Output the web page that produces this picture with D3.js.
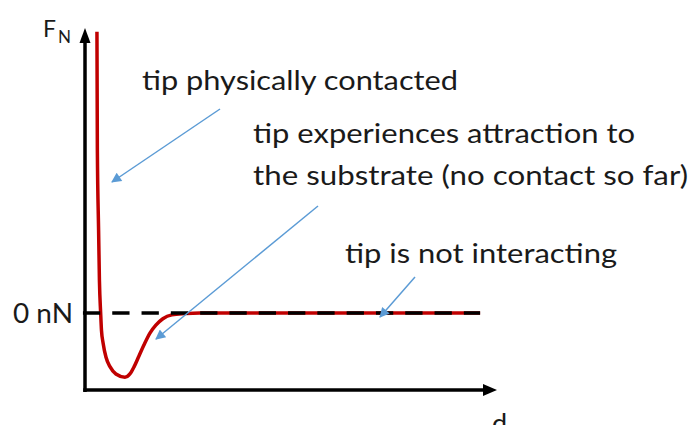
<!DOCTYPE html>
<html>
<head>
<meta charset="utf-8">
<script src="https://cdn.jsdelivr.net/npm/d3@7/dist/d3.min.js"></script>
<style>
  html, body { margin: 0; padding: 0; background: #fff; }
  svg { display: block; }
  text { font-family: Lato, "Open Sans", sans-serif; fill: #1a1a1a; }
</style>
</head>
<body>
<svg id="chart" width="692" height="425"></svg>
<script>
// ---- data ----
const distance = [0.29, 0.30, 0.33, 0.35, 0.38, 0.40, 0.44, 0.51, 0.61, 0.75, 0.97, 1.09, 1.19, 1.31, 1.43, 1.58, 1.72, 1.89, 2.11, 2.43, 2.79, 9.59];
const force    = [4.38, 2.54, 1.29, 0.51, 0.00, -0.27, -0.47, -0.69, -0.84, -0.95, -1.00, -0.95, -0.84, -0.67, -0.50, -0.31, -0.19, -0.09, -0.03, -0.01, 0.00, 0.00];
const zeroLine = [-0.05, 9.59];
const yTickLabels = ["0 nN"];
const axisLabels = ["F", "N", "d"];
const annotationTexts = [
  "tip physically contacted",
  "tip experiences attraction to",
  "the substrate (no contact so far)",
  "tip is not interacting"
];

// ---- layout ----
const svg = d3.select("#chart");
const x = d3.scaleLinear().domain([0, 10]).range([85, 497]);
const y = d3.scaleLinear().domain([-1.2, 4.44]).range([390, 28]);

const red = "#c00000";
const blue = "#5b9bd5";

const defs = svg.append("defs");
defs.append("marker")
  .attr("id", "blueHead").attr("viewBox", "0 0 10 10")
  .attr("refX", 9).attr("refY", 5)
  .attr("markerWidth", 13).attr("markerHeight", 10)
  .attr("markerUnits", "userSpaceOnUse")
  .attr("orient", "auto")
  .append("path").attr("d", "M0,0 L10,5 L0,10 Z").attr("fill", blue);

// red force curve
const pts = distance.map((d, i) => [d, force[i]]);
const line = d3.line().x(d => x(d[0])).y(d => y(d[1])).curve(d3.curveMonotoneX);
svg.append("path")
  .datum(pts)
  .attr("d", line)
  .attr("fill", "none")
  .attr("stroke", red)
  .attr("stroke-width", 3.5)
  .attr("stroke-linejoin", "round");

// dashed zero line (on top of curve)
svg.append("line")
  .attr("x1", x(zeroLine[0])).attr("x2", x(zeroLine[1]))
  .attr("y1", y(0)).attr("y2", y(0))
  .attr("stroke", "#000")
  .attr("stroke-width", 3.5)
  .attr("stroke-dasharray", "17.3 12");

// axes
const ax = svg.append("g");
ax.append("line")
  .attr("x1", x(0)).attr("x2", x(0))
  .attr("y1", y(-1.2) + 2).attr("y2", 40)
  .attr("stroke", "#000").attr("stroke-width", 3.5);
ax.append("path")
  .attr("d", `M${x(0)},${28} L${x(0) + 5.5},${43} L${x(0) - 5.5},${43} Z`)
  .attr("fill", "#000");
ax.append("line")
  .attr("x1", x(0) - 1.75).attr("x2", 485)
  .attr("y1", y(-1.2)).attr("y2", y(-1.2))
  .attr("stroke", "#000").attr("stroke-width", 3.5);
ax.append("path")
  .attr("d", `M497,${y(-1.2)} L483,${y(-1.2) - 6} L483,${y(-1.2) + 6} Z`)
  .attr("fill", "#000");

// tick label
svg.append("text")
  .attr("x", 13).attr("y", y(0) + 10)
  .attr("font-size", 26)
  .attr("textLength", 60).attr("lengthAdjust", "spacingAndGlyphs")
  .text(yTickLabels[0]);

// axis labels
svg.append("text").attr("x", 43).attr("y", 37).attr("font-size", 24)
  .attr("textLength", 13).attr("lengthAdjust", "spacingAndGlyphs")
  .text(axisLabels[0]);
svg.append("text").attr("x", 58).attr("y", 43).attr("font-size", 17)
  .attr("textLength", 13).attr("lengthAdjust", "spacingAndGlyphs")
  .text(axisLabels[1]);
svg.append("text").attr("x", 492).attr("y", 433).attr("font-size", 27)
  .text(axisLabels[2]);

// annotations
const notes = [
  { t: annotationTexts[0], x: 142, y: 90, w: 316 },
  { t: annotationTexts[1], x: 253, y: 143, w: 382 },
  { t: annotationTexts[2], x: 253, y: 185, w: 435 },
  { t: annotationTexts[3], x: 345, y: 263, w: 272 }
];
svg.selectAll("text.note").data(notes).join("text")
  .attr("class", "note")
  .attr("x", d => d.x).attr("y", d => d.y)
  .attr("font-size", 26)
  .attr("textLength", d => d.w).attr("lengthAdjust", "spacingAndGlyphs")
  .text(d => d.t);

const arrows = [
  [220, 109, 112, 182],
  [318, 206, 156, 339],
  [415, 277, 380, 317]
];
svg.selectAll("line.arrow").data(arrows).join("line")
  .attr("class", "arrow")
  .attr("x1", d => d[0]).attr("y1", d => d[1])
  .attr("x2", d => d[2]).attr("y2", d => d[3])
  .attr("stroke", blue).attr("stroke-width", 1.5)
  .attr("marker-end", "url(#blueHead)");
</script>
</body>
</html>
